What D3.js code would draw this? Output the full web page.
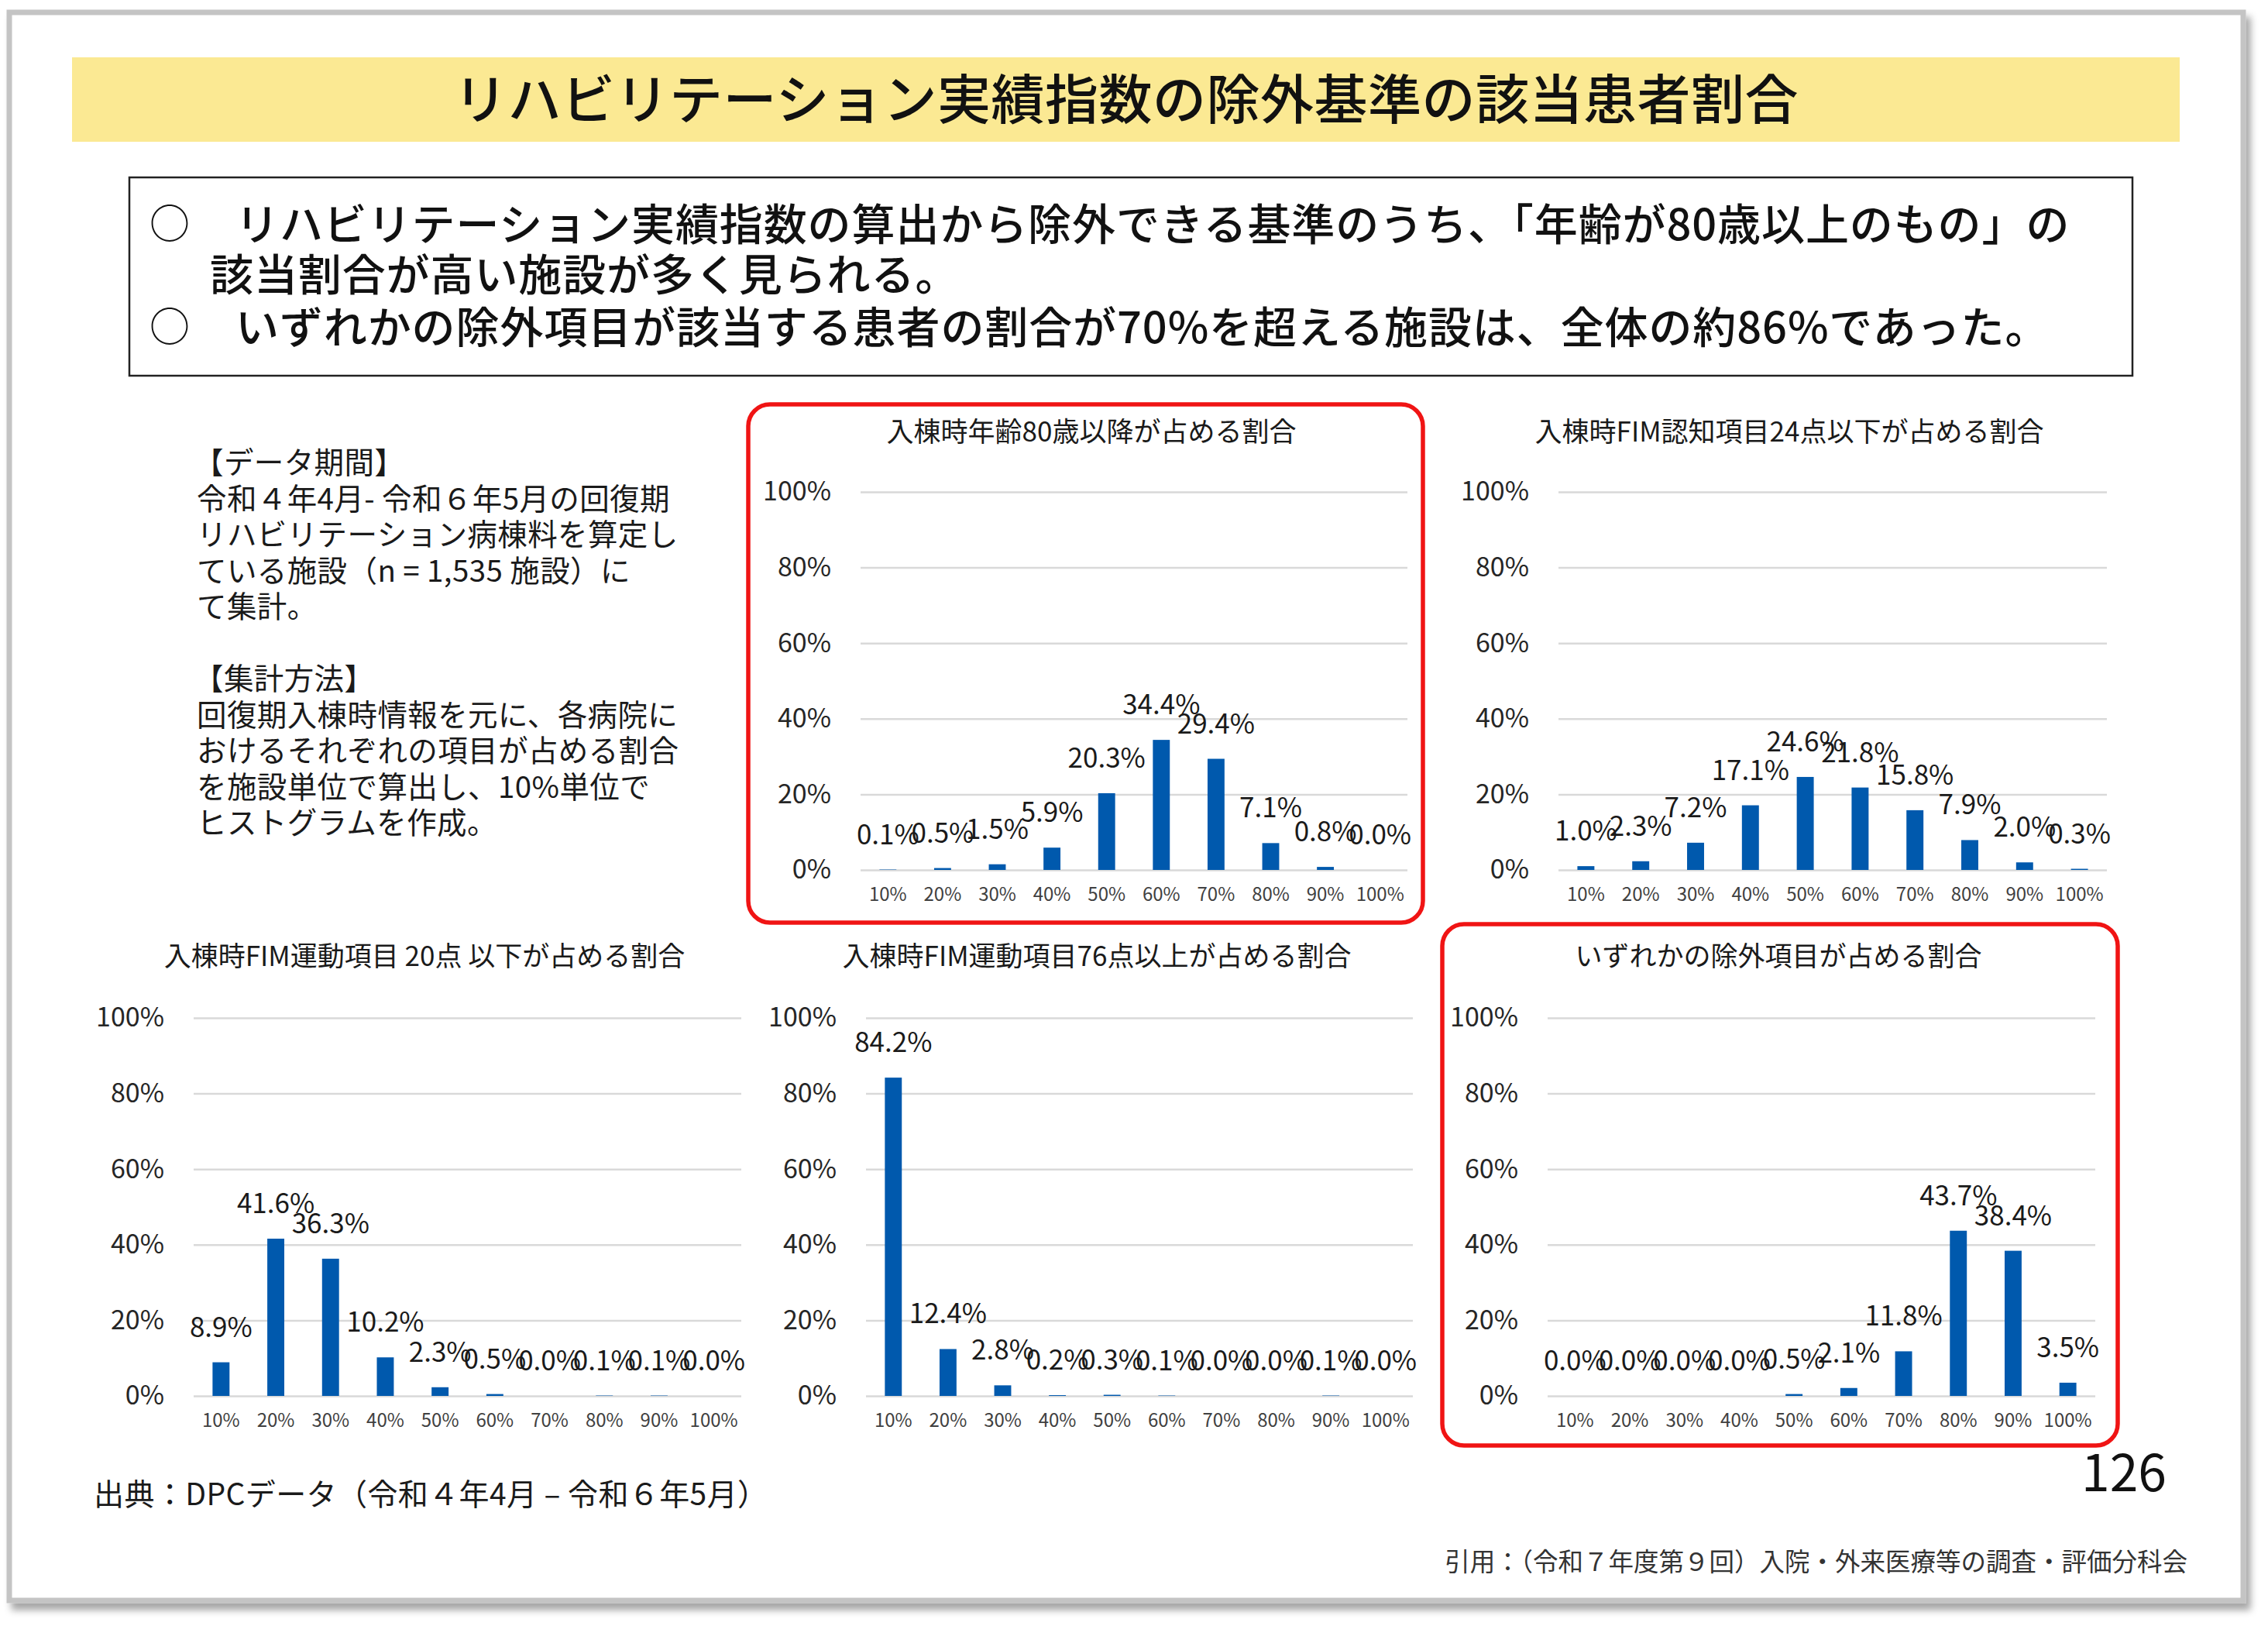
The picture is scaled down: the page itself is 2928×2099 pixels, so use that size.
<!DOCTYPE html>
<html lang="ja">
<head>
<meta charset="utf-8">
<title>リハビリテーション実績指数の除外基準の該当患者割合</title>
<script src="https://d3js.org/d3.v7.min.js"></script>
<style>
  body { margin: 0; background: #fff; }
  svg { display: block; font-family: "Noto Sans CJK JP", "Noto Sans", sans-serif; }
</style>
</head>
<body>
<svg id="slide" width="2928" height="2099"></svg>
<script>
// ---- data ----
const categories = ["10%", "20%", "30%", "40%", "50%", "60%", "70%", "80%", "90%", "100%"];
const yTicks = [0, 20, 40, 60, 80, 100];

const age80Values   = [0.1, 0.5, 1.5, 5.9, 20.3, 34.4, 29.4, 7.1, 0.8, 0.0];
const cogn24Values  = [1.0, 2.3, 7.2, 17.1, 24.6, 21.8, 15.8, 7.9, 2.0, 0.3];
const motor20Values = [8.9, 41.6, 36.3, 10.2, 2.3, 0.5, 0.0, 0.1, 0.1, 0.0];
const motor76Values = [84.2, 12.4, 2.8, 0.2, 0.3, 0.1, 0.0, 0.0, 0.1, 0.0];
const anyValues     = [0.0, 0.0, 0.0, 0.0, 0.5, 2.1, 11.8, 43.7, 38.4, 3.5];

const chartTitles = [
  "入棟時年齢80歳以降が占める割合",
  "入棟時FIM認知項目24点以下が占める割合",
  "入棟時FIM運動項目 20点 以下が占める割合",
  "入棟時FIM運動項目76点以上が占める割合",
  "いずれかの除外項目が占める割合"
];

const pageTitle = "リハビリテーション実績指数の除外基準の該当患者割合";
const summaryLines = [
  "リハビリテーション実績指数の算出から除外できる基準のうち、「年齢が80歳以上のもの」の",
  "該当割合が高い施設が多く見られる。",
  "いずれかの除外項目が該当する患者の割合が70%を超える施設は、全体の約86%であった。"
];
const noteLines = [
  "【データ期間】",
  "令和４年4月- 令和６年5月の回復期",
  "リハビリテーション病棟料を算定し",
  "ている施設（n = 1,535 施設）に",
  "て集計。",
  "",
  "【集計方法】",
  "回復期入棟時情報を元に、各病院に",
  "おけるそれぞれの項目が占める割合",
  "を施設単位で算出し、10%単位で",
  "ヒストグラムを作成。"
];

const svg = d3.select("#slide");

// 影
const defs = svg.append("defs");
defs.append("filter").attr("id", "shadow")
  .attr("x", "-5%").attr("y", "-5%").attr("width", "110%").attr("height", "110%")
  .append("feDropShadow")
  .attr("dx", 6).attr("dy", 9).attr("stdDeviation", 5)
  .attr("flood-color", "#000").attr("flood-opacity", 0.35);

// スライド枠
svg.append("rect")
  .attr("x", 12).attr("y", 16).attr("width", 2884).attr("height", 2050)
  .attr("fill", "#fff").attr("stroke", "#c4c4c4").attr("stroke-width", 7)
  .attr("filter", "url(#shadow)");

// タイトル帯
svg.append("rect")
  .attr("x", 93).attr("y", 74).attr("width", 2721).attr("height", 109)
  .attr("fill", "#fbe993");
svg.append("text")
  .attr("x", 1454).attr("y", 124)
  .attr("text-anchor", "middle").attr("dominant-baseline", "central")
  .attr("font-size", 69).attr("font-weight", 500).attr("fill", "#111")
  .attr("letter-spacing", 0.5)
  .text(pageTitle);

// 要約ボックス
svg.append("rect")
  .attr("x", 167).attr("y", 229).attr("width", 2586).attr("height", 256)
  .attr("fill", "#fff").attr("stroke", "#222").attr("stroke-width", 2.5);
const sumY = [285, 350, 418];
const sumX = [304, 271, 304];
summaryLines.forEach((s, i) => {
  svg.append("text")
    .attr("x", sumX[i]).attr("y", sumY[i])
    .attr("dominant-baseline", "central")
    .attr("font-size", 56).attr("font-weight", 500).attr("fill", "#111")
    .attr("letter-spacing", 0.9)
    .text(s);
});
[0, 2].forEach(i => {
  svg.append("text")
    .attr("x", 193).attr("y", sumY[i])
    .attr("dominant-baseline", "central")
    .attr("font-size", 52).attr("fill", "#111")
    .text("○");
});

// 左の注記
noteLines.forEach((s, i) => {
  svg.append("text")
    .attr("x", i === 0 || i === 6 ? 250 : 254)
    .attr("y", 594 + i * 46.5)
    .attr("dominant-baseline", "central")
    .attr("font-size", 38.5).attr("fill", "#1a1a1a")
    .attr("letter-spacing", 0.4)
    .text(s);
});

// 赤枠
const redBoxes = [
  { x: 966, y: 522, w: 871, h: 669 },
  { x: 1862, y: 1193, w: 872, h: 673 }
];
redBoxes.forEach(b => {
  svg.append("rect")
    .attr("x", b.x).attr("y", b.y).attr("width", b.w).attr("height", b.h)
    .attr("rx", 28).attr("ry", 28)
    .attr("fill", "none").attr("stroke", "#f01414").attr("stroke-width", 5.5);
});

// ---- グラフ ----
const layouts = [
  { left: 1111, right: 1817, top: 635, bottom: 1123, titleX: 1409, titleY: 554 },
  { left: 2012, right: 2720, top: 635, bottom: 1123, titleX: 2310, titleY: 554 },
  { left: 250,  right: 957,  top: 1314, bottom: 1802, titleX: 548,  titleY: 1231 },
  { left: 1118, right: 1824, top: 1314, bottom: 1802, titleX: 1416, titleY: 1231 },
  { left: 1998, right: 2705, top: 1314, bottom: 1802, titleX: 2296, titleY: 1231 }
];
const seriesList = [age80Values, cogn24Values, motor20Values, motor76Values, anyValues];

function drawChart(values, title, L) {
  const w = L.right - L.left;
  const h = L.bottom - L.top;
  const g = svg.append("g").attr("transform", `translate(${L.left},${L.top})`);

  const x = d3.scaleBand().domain(categories).range([0, w])
    .paddingInner(0.69).paddingOuter(0.345);
  const y = d3.scaleLinear().domain([0, 100]).range([h, 0]);

  // 目盛線と Y 軸ラベル
  const yAxis = g.append("g")
    .call(d3.axisLeft(y).tickValues(yTicks).tickFormat(d => d + "%")
      .tickSize(-w).tickPadding(38));
  yAxis.select(".domain").remove();
  yAxis.selectAll(".tick line").attr("stroke", "#d9d9d9").attr("stroke-width", 2.5);
  yAxis.selectAll(".tick text")
    .attr("font-size", 34).attr("fill", "#262626")
    .attr("font-family", "'Noto Sans CJK JP', sans-serif");

  // X 軸ラベル
  const xAxis = g.append("g").attr("transform", `translate(0,${h})`)
    .call(d3.axisBottom(x).tickSize(0).tickPadding(23));
  xAxis.select(".domain").remove();
  xAxis.selectAll(".tick text")
    .attr("font-size", 24).attr("fill", "#404040")
    .attr("font-family", "'Noto Sans CJK JP', sans-serif");

  // 棒
  g.selectAll("rect.bar").data(values).join("rect")
    .attr("class", "bar")
    .attr("x", (d, i) => x(categories[i]))
    .attr("y", d => y(d))
    .attr("width", x.bandwidth())
    .attr("height", d => h - y(d))
    .attr("fill", "#0059ad");

  // データラベル
  g.selectAll("text.lbl").data(values).join("text")
    .attr("class", "lbl")
    .attr("x", (d, i) => x(categories[i]) + x.bandwidth() / 2)
    .attr("y", d => y(d) - 33)
    .attr("text-anchor", "middle")
    .attr("font-size", 35).attr("fill", "#1a1a1a")
    .text(d => d.toFixed(1) + "%");

  // グラフタイトル
  svg.append("text")
    .attr("x", L.titleX).attr("y", L.titleY)
    .attr("text-anchor", "middle").attr("dominant-baseline", "central")
    .attr("font-size", 35).attr("fill", "#1a1a1a")
    .text(title);
}

seriesList.forEach((vals, i) => drawChart(vals, chartTitles[i], layouts[i]));

// フッター
svg.append("text")
  .attr("x", 121).attr("y", 1926)
  .attr("dominant-baseline", "central")
  .attr("font-size", 39).attr("fill", "#1a1a1a")
  .attr("letter-spacing", 0.4)
  .text("出典：DPCデータ（令和４年4月 – 令和６年5月）");
svg.append("text")
  .attr("x", 2797).attr("y", 1896)
  .attr("text-anchor", "end").attr("dominant-baseline", "central")
  .attr("font-size", 66).attr("fill", "#111")
  .text("126");
svg.append("text")
  .attr("x", 2824).attr("y", 2013)
  .attr("text-anchor", "end").attr("dominant-baseline", "central")
  .attr("font-size", 32.5).attr("fill", "#333")
  .text("引用：（令和７年度第９回）入院・外来医療等の調査・評価分科会");
</script>
</body>
</html>
